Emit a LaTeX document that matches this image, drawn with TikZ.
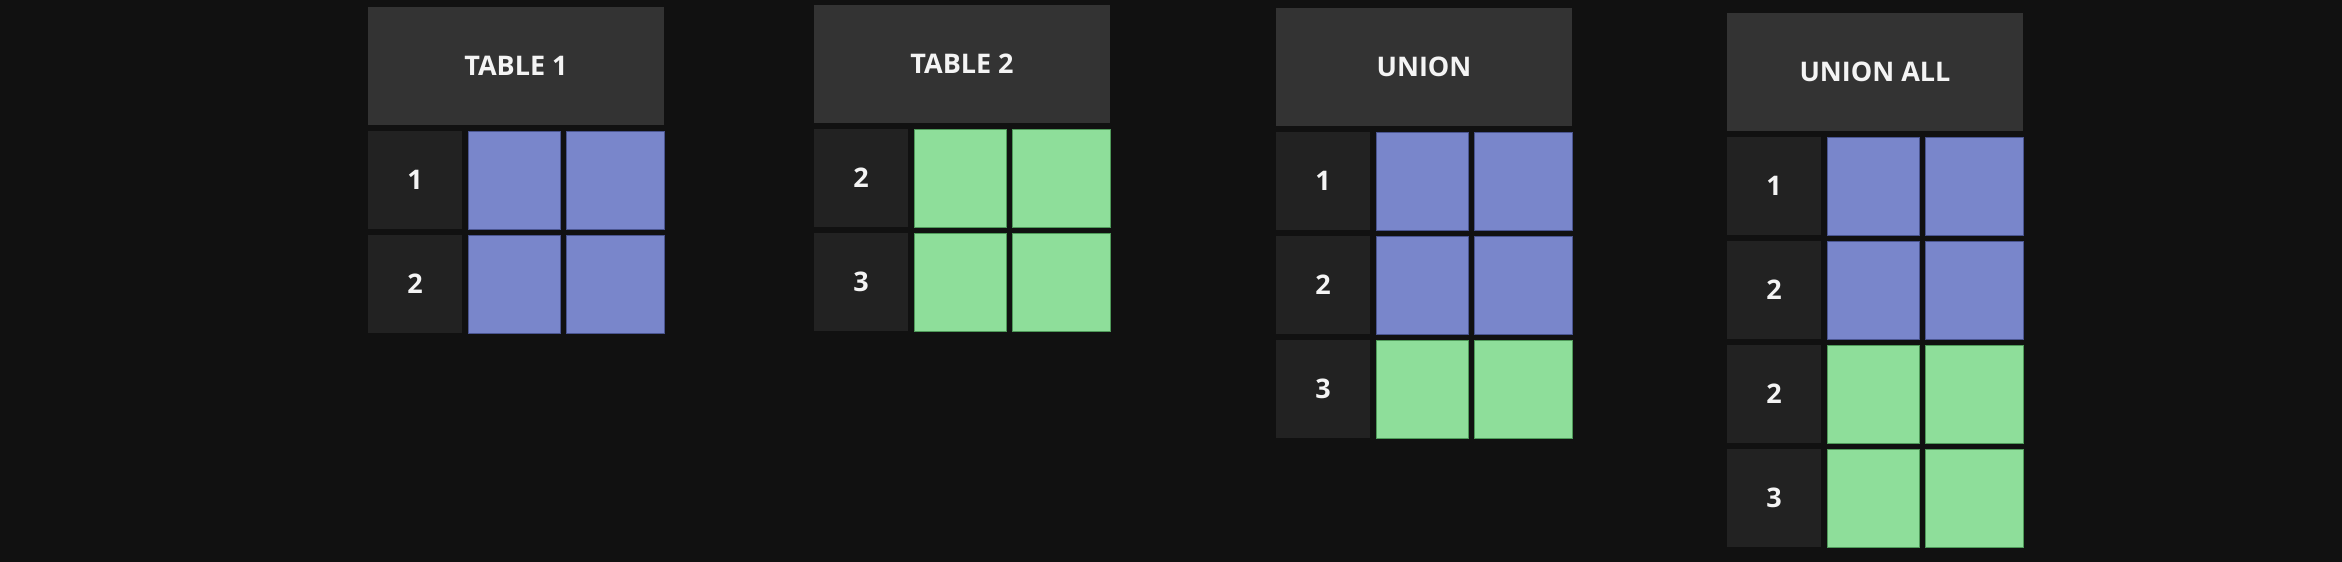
\documentclass[tikz,border=0pt]{standalone}
\usepackage{fontspec}
\setmainfont{Open Sans}
\definecolor{bgc}{HTML}{111111}
\definecolor{hdrgray}{HTML}{333333}
\definecolor{lblgray}{HTML}{222222}
\definecolor{bluec}{HTML}{7986CB}
\definecolor{blueedge}{HTML}{4A5590}
\definecolor{greenc}{HTML}{8EDE9A}
\definecolor{greenedge}{HTML}{4F9A5A}
\definecolor{txt}{HTML}{F4F4F4}
\newcommand\mktable[5]{%
  \node[hdr] (#1-h) at (#2,#3) {#4};
  \foreach \lab/\col [count=\i] in {#5} {
    \pgfmathsetmacro\yy{#3+124+(\i-1)*104}
    \node[lbl] (#1-l\i) at (#2,\yy) {\lab};
    \node[datacell, fill=\col c, draw=\col edge] (#1-a\i) at (#2+100,\yy) {};
    \node[datacell, minimum width=98pt, fill=\col c, draw=\col edge] (#1-b\i) at (#2+198,\yy) {};
  }%
}
\begin{document}
\begin{tikzpicture}[x=1pt,y=-1pt,
  cellbase/.style={anchor=north west, inner sep=0pt, outer sep=0pt,
    font=\fontsize{27}{32}\selectfont\bfseries, text=txt},
  hdr/.style={cellbase, fill=hdrgray, minimum width=296pt, minimum height=118pt},
  lbl/.style={cellbase, fill=lblgray, minimum width=94pt, minimum height=98pt},
  datacell/.style={cellbase, line width=0.8pt, minimum width=92pt, minimum height=98pt}]
\useasboundingbox (0,0) rectangle (2342,562);
\fill[bgc] (0,0) rectangle (2342,562);
\mktable{t1}{368}{7}{TABLE 1}{1/blue,2/blue}
\mktable{t2}{814}{5}{TABLE 2}{2/green,3/green}
\mktable{un}{1276}{8}{UNION}{1/blue,2/blue,3/green}
\mktable{ua}{1727}{13}{UNION ALL}{1/blue,2/blue,2/green,3/green}
\end{tikzpicture}
\end{document}
